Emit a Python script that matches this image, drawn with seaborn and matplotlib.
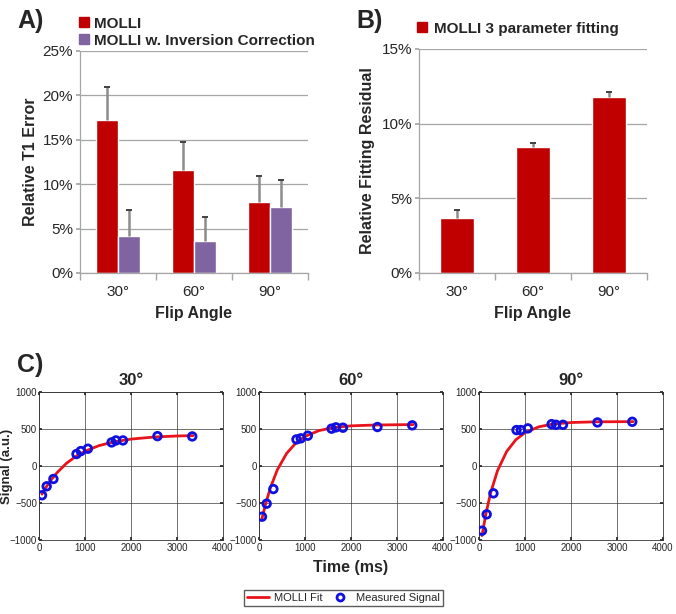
import numpy as np
import pandas as pd
import seaborn as sns
import matplotlib.pyplot as plt
from matplotlib.lines import Line2D

# Panel A: relative T1 error
angles = ["30°", "60°", "90°"]
molli_err = [17.2, 11.6, 8.0]
molli_sd = [3.7, 3.2, 2.9]
inv_err = [4.2, 3.6, 7.4]
inv_sd = [2.9, 2.7, 3.1]

# Panel B: fitting residual
resid = [3.7, 8.45, 11.8]
resid_sd = [0.5, 0.25, 0.35]

# Panel C: measured signal vs time
t_meas = [65, 167, 313, 815, 909, 1062, 1578, 1673, 1825, 2575, 3331]
sig_30 = [-395, -274, -175, 162, 202, 234, 319, 346, 346, 404, 400]
sig_60 = [-685, -509, -311, 360, 374, 410, 505, 523, 518, 527, 550]
sig_90 = [-874, -653, -369, 486, 486, 509, 566, 557, 557, 589, 598]

# fitted curves
t_fit = [65, 150, 250, 400, 600, 800, 1000, 1300, 1600, 2000, 2500, 3000, 3350]
fit_30 = [-380, -290, -197, -85, 39, 130, 200, 275, 323, 364, 392, 406, 411]
fit_60 = [-710, -500, -290, -50, 170, 310, 400, 478, 518, 543, 554, 558, 560]
fit_90 = [-940, -645, -368, -66, 196, 355, 452, 530, 567, 588, 597, 599, 600]

RED = "#C00000"
PURPLE = "#8064A2"

sns.set_theme(style="white")
plt.rcParams["font.family"] = ["Liberation Sans", "DejaVu Sans"]

fig = plt.figure(figsize=(6.76, 6.14), dpi=100)


def excel_axes(ax, ymax, step):
    ax.set_ylim(0, ymax)
    ax.set_yticks(np.arange(0, ymax + 0.01, step))
    ax.set_yticklabels([f"{int(v)}%" for v in np.arange(0, ymax + 0.01, step)], fontsize=11)
    ax.yaxis.grid(True, color="#a6a6a6", lw=0.9)
    ax.set_axisbelow(True)
    for s in ["top", "right"]:
        ax.spines[s].set_visible(False)
    for s in ["left", "bottom"]:
        ax.spines[s].set_color("#a6a6a6")
        ax.spines[s].set_linewidth(0.9)
    ax.set_xlim(-0.5, 2.5)
    ax.set_xticks([-0.5, 0.5, 1.5, 2.5], minor=True)
    ax.tick_params(axis="x", which="minor", length=5, color="#a6a6a6", direction="out", bottom=True)
    ax.tick_params(axis="x", which="major", length=0, labelsize=11, pad=9)
    ax.tick_params(axis="y", length=3, color="#a6a6a6", direction="out", left=True, pad=2)
    ax.set_xlabel("Flip Angle", fontsize=11.5, fontweight="bold", labelpad=5)


def up_errors(ax, xs, vals, sds):
    tops = np.array(vals) + np.array(sds)
    ax.vlines(xs, vals, tops, color="#8c8c8c", lw=1.8, zorder=3)
    ax.hlines(tops, np.array(xs) - 0.04, np.array(xs) + 0.04, color="#404040", lw=1.4, zorder=3)


# ---- A ----
axA = fig.add_axes([0.1183, 0.5554, 0.3373, 0.3616])
dfA = pd.DataFrame({
    "angle": angles * 2,
    "err": molli_err + inv_err,
    "method": ["MOLLI"] * 3 + ["MOLLI w. Inversion Correction"] * 3,
})
sns.barplot(data=dfA, x="angle", y="err", hue="method", palette=[RED, PURPLE],
            width=0.58, errorbar=None, legend=False, ax=axA, saturation=1)
bars = sorted(axA.patches, key=lambda p: p.get_x())
xs = [p.get_x() + p.get_width() / 2 for p in bars]
vals, sds = [], []
for i in range(3):
    vals += [molli_err[i], inv_err[i]]
    sds += [molli_sd[i], inv_sd[i]]
up_errors(axA, xs, vals, sds)
excel_axes(axA, 25, 5)
axA.set_ylabel("Relative T1 Error", fontsize=11.5, fontweight="bold", labelpad=3)
fig.text(0.026, 0.966, "A)", fontsize=18, fontweight="bold", va="center")
axA.legend(handles=[Line2D([], [], marker="s", ls="", color=RED, markersize=6.5),
                    Line2D([], [], marker="s", ls="", color=PURPLE, markersize=6.5)],
           labels=["MOLLI", "MOLLI w. Inversion Correction"], loc="lower left",
           bbox_to_anchor=(-0.005, 1.015), frameon=False, handletextpad=0.3,
           handlelength=0.7, borderpad=0, borderaxespad=0,
           labelspacing=0.2, prop={"size": 11, "weight": "bold"})

# ---- B ----
axB = fig.add_axes([0.6198, 0.5554, 0.3373, 0.3648])
dfB = pd.DataFrame({"angle": angles, "res": resid})
sns.barplot(data=dfB, x="angle", y="res", color=RED, width=0.44, errorbar=None,
            ax=axB, saturation=1)
xb = [p.get_x() + p.get_width() / 2 for p in sorted(axB.patches, key=lambda p: p.get_x())]
up_errors(axB, xb, resid, resid_sd)
excel_axes(axB, 15, 5)
axB.set_ylabel("Relative Fitting Residual", fontsize=11.5, fontweight="bold", labelpad=5)
fig.text(0.527, 0.966, "B)", fontsize=18, fontweight="bold", va="center")
axB.legend(handles=[Line2D([], [], marker="s", ls="", color=RED, markersize=6.5)],
           labels=["MOLLI 3 parameter fitting"], loc="center left",
           bbox_to_anchor=(-0.01, 1.09), frameon=False, handletextpad=0.45,
           handlelength=0.7, borderpad=0, borderaxespad=0,
           prop={"size": 11, "weight": "bold"})

# ---- C ----
lefts = [0.0577, 0.3831, 0.7086]
sigs = [sig_30, sig_60, sig_90]
fits = [fit_30, fit_60, fit_90]
for k in range(3):
    ax = fig.add_axes([lefts[k], 0.1205, 0.2722, 0.241])
    sns.lineplot(x=t_fit, y=fits[k], color="#e8141b", lw=2, ax=ax, sort=False)
    sns.scatterplot(x=t_meas, y=sigs[k], marker="o", s=30, facecolor="none",
                    edgecolor="#1010e0", linewidth=2, ax=ax, zorder=3)
    ax.set_xlim(0, 4000)
    ax.set_ylim(-1000, 1000)
    ax.set_xticks([0, 1000, 2000, 3000, 4000])
    ax.set_yticks([-1000, -500, 0, 500, 1000])
    ax.grid(True, color="#3a3a3a", lw=0.5)
    ax.tick_params(labelsize=7, length=2, direction="in", pad=2,
                   bottom=True, left=True, top=True, right=True)
    ax.tick_params(axis="y", pad=1.5)
    for s in ax.spines.values():
        s.set_color("#333333")
        s.set_linewidth(0.6)
    ax.set_title(angles[k], fontsize=12, fontweight="bold", pad=5)
    if k == 0:
        ax.set_ylabel("Signal (a.u.)", fontsize=9.5, fontweight="bold")
        ax.yaxis.set_label_coords(-0.141, 0.5)
    if k == 1:
        ax.set_xlabel("Time (ms)", fontsize=11.5, fontweight="bold", labelpad=5)

fig.text(0.025, 0.4055, "C)", fontsize=18, fontweight="bold", va="center")

fig.legend(handles=[Line2D([], [], color="#e8141b", lw=2),
                    Line2D([], [], marker="o", ls="", markerfacecolor="none",
                           markeredgecolor="#1010e0", markeredgewidth=2, markersize=5)],
           labels=["MOLLI Fit", "Measured Signal"], loc="center",
           bbox_to_anchor=(0.508, 0.026), ncol=2, fontsize=8, frameon=True,
           fancybox=False, edgecolor="#333333", handlelength=2.0,
           columnspacing=0.6, handletextpad=0.4, borderpad=0.3)

fig.savefig("out.png", dpi=100)
